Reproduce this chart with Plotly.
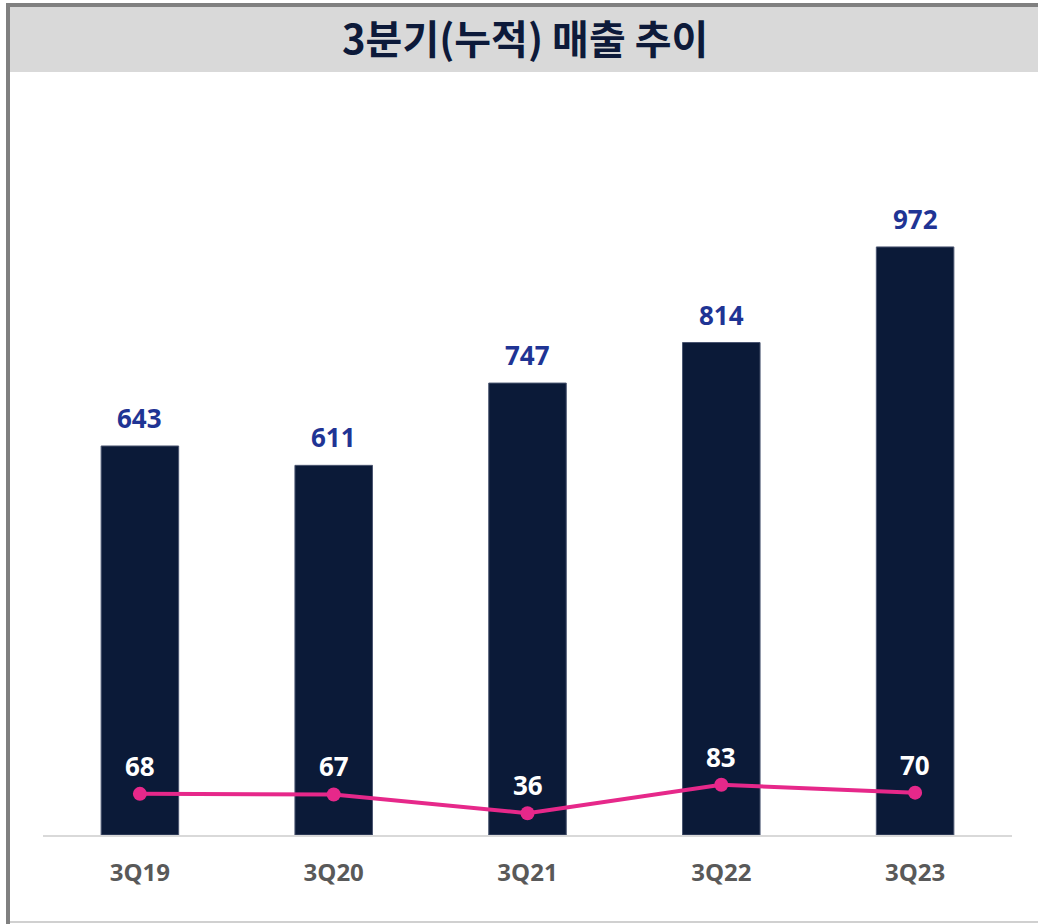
import plotly.graph_objects as go

categories = ["3Q19", "3Q20", "3Q21", "3Q22", "3Q23"]
revenue = [643, 611, 747, 814, 972]
op_profit = [68, 67, 36, 83, 70]
title_text = "3분기(누적) 매출 추이"

W, H = 1038, 924
L, R, T, B = 43, 26, 90, 89
PW, PH = W - L - R, H - T - B
YMAX = PH / 0.605


def px(x):
    return (x - L) / PW


def py(y):
    return (H - B - y) / PH


NUM_FONT = "Open Sans, Lato, sans-serif"

fig = go.Figure()
fig.add_trace(go.Bar(
    x=categories, y=revenue, width=0.4,
    marker=dict(color="#0b1a38", line=dict(color="#4a5570", width=1)),
    hoverinfo="skip", showlegend=False,
))
fig.add_trace(go.Scatter(
    x=categories, y=op_profit, mode="lines+markers",
    line=dict(color="#e6288a", width=4),
    marker=dict(color="#e6288a", size=14),
    hoverinfo="skip", showlegend=False,
))

annotations = []
for c, v in zip(categories, revenue):
    annotations.append(dict(
        x=c, y=v, xref="x", yref="y", text=f"<b>{v}</b>", showarrow=False,
        yanchor="middle", yshift=28,
        font=dict(family=NUM_FONT, size=26, color="#1f3494"),
    ))
for c, v in zip(categories, op_profit):
    annotations.append(dict(
        x=c, y=v, xref="x", yref="y", text=f"<b>{v}</b>", showarrow=False,
        yanchor="middle", yshift=28,
        font=dict(family=NUM_FONT, size=26, color="#ffffff"),
    ))
annotations.append(dict(
    x=px(525), y=py(37), xref="paper", yref="paper", text=f"<b>{title_text}</b>",
    showarrow=False, xanchor="center", yanchor="middle",
    font=dict(family="Noto Sans CJK KR", size=40, color="#0d1a3a"),
))

shapes = [
    dict(type="rect", xref="paper", yref="paper", x0=px(8), x1=px(1045), y0=py(5), y1=py(72),
         fillcolor="#d9d9d9", line=dict(width=0), layer="below"),
    dict(type="rect", xref="paper", yref="paper", x0=px(6), x1=px(1045), y0=py(3), y1=py(7),
         fillcolor="#808080", line=dict(width=0), layer="below"),
    dict(type="rect", xref="paper", yref="paper", x0=px(6), x1=px(10), y0=py(3), y1=py(930),
         fillcolor="#808080", line=dict(width=0), layer="below"),
    dict(type="rect", xref="paper", yref="paper", x0=px(10), x1=px(1045), y0=py(921), y1=py(923),
         fillcolor="#d0d0d0", line=dict(width=0), layer="below"),
]

fig.update_layout(
    width=W, height=H,
    margin=dict(l=L, r=R, t=T, b=B, pad=0),
    paper_bgcolor="#ffffff", plot_bgcolor="#ffffff",
    annotations=annotations, shapes=shapes,
    bargap=0.6,
    xaxis=dict(
        showline=True, linecolor="#d9d9d9", linewidth=2,
        showgrid=False, zeroline=False,
        ticks="outside", ticklen=15, tickcolor="rgba(0,0,0,0)",
        tickfont=dict(family=NUM_FONT, size=24, color="#595959"),
        tickprefix="<b>", ticksuffix="</b>",
        fixedrange=True,
    ),
    yaxis=dict(range=[0, YMAX], visible=False, showgrid=False, zeroline=False, fixedrange=True),
)

fig.write_html(
    "out.html",
    config={"displayModeBar": False, "staticPlot": True},
    post_script="document.body.style.margin='0';document.body.style.overflow='hidden';",
)
